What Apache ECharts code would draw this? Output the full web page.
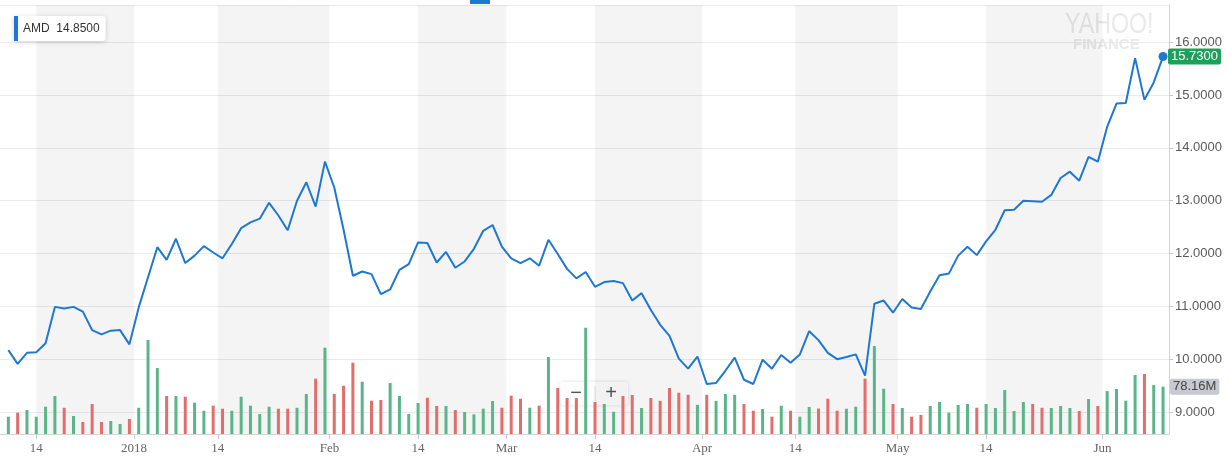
<!DOCTYPE html>
<html><head><meta charset="utf-8">
<script src="https://cdn.jsdelivr.net/npm/echarts@6/dist/echarts.min.js"></script>
<style>html,body{margin:0;padding:0;background:#fff}#c{width:1229px;height:462px}</style>
</head><body><div id="c"></div>
<script>
const dates = [
'2017-12-11','2017-12-12','2017-12-13','2017-12-14','2017-12-15','2017-12-18','2017-12-19','2017-12-20','2017-12-21','2017-12-22','2017-12-26','2017-12-27','2017-12-28','2017-12-29',
'2018-01-02','2018-01-03','2018-01-04','2018-01-05','2018-01-08','2018-01-09','2018-01-10','2018-01-11','2018-01-12','2018-01-16','2018-01-17','2018-01-18','2018-01-19','2018-01-22','2018-01-23','2018-01-24','2018-01-25','2018-01-26','2018-01-29','2018-01-30','2018-01-31',
'2018-02-01','2018-02-02','2018-02-05','2018-02-06','2018-02-07','2018-02-08','2018-02-09','2018-02-12','2018-02-13','2018-02-14','2018-02-15','2018-02-16','2018-02-20','2018-02-21','2018-02-22','2018-02-23','2018-02-26','2018-02-27','2018-02-28',
'2018-03-01','2018-03-02','2018-03-05','2018-03-06','2018-03-07','2018-03-08','2018-03-09','2018-03-12','2018-03-13','2018-03-14','2018-03-15','2018-03-16','2018-03-19','2018-03-20','2018-03-21','2018-03-22','2018-03-23','2018-03-26','2018-03-27','2018-03-28','2018-03-29',
'2018-04-02','2018-04-03','2018-04-04','2018-04-05','2018-04-06','2018-04-09','2018-04-10','2018-04-11','2018-04-12','2018-04-13','2018-04-16','2018-04-17','2018-04-18','2018-04-19','2018-04-20','2018-04-23','2018-04-24','2018-04-25','2018-04-26','2018-04-27','2018-04-30',
'2018-05-01','2018-05-02','2018-05-03','2018-05-04','2018-05-07','2018-05-08','2018-05-09','2018-05-10','2018-05-11','2018-05-14','2018-05-15','2018-05-16','2018-05-17','2018-05-18','2018-05-21','2018-05-22','2018-05-23','2018-05-24','2018-05-25','2018-05-29','2018-05-30','2018-05-31',
'2018-06-01','2018-06-04','2018-06-05','2018-06-06','2018-06-07','2018-06-08','2018-06-11'];

const closes = [
10.17, 9.91, 10.12, 10.13, 10.30, 10.99, 10.96, 10.99, 10.90, 10.55,
10.47, 10.54, 10.55, 10.28, 10.98, 11.55, 12.12, 11.88, 12.28, 11.82,
11.96, 12.14, 12.02, 11.91, 12.18, 12.48, 12.59, 12.66, 12.96, 12.72,
12.44, 13.00, 13.35, 12.89, 13.74, 13.25, 12.45, 11.58, 11.66, 11.61,
11.23, 11.32, 11.69, 11.80, 12.21, 12.20, 11.83, 12.03, 11.73, 11.85,
12.09, 12.43, 12.54, 12.13, 11.91, 11.82, 11.91, 11.77, 12.26, 11.99,
11.71, 11.53, 11.65, 11.37, 11.46, 11.48, 11.44, 11.11, 11.25, 10.93,
10.65, 10.44, 10.01, 9.82, 10.05, 9.53, 9.55, 9.78, 10.03, 9.61,
9.53, 9.99, 9.82, 10.08, 9.93, 10.09, 10.53, 10.36, 10.12, 10.00,
10.04, 10.09, 9.69, 11.05, 11.11, 10.88, 11.14, 10.98, 10.95, 11.28,
11.59, 11.62, 11.96, 12.13, 11.97, 12.23, 12.45, 12.82, 12.83, 13.00,
12.99, 12.98, 13.11, 13.43, 13.55, 13.38, 13.83, 13.74, 14.40, 14.84,
14.85, 15.70, 14.91, 15.24, 15.73];

const volumes = [
28.6, 35.2, 39.6, 28.6, 45.1, 62.8, 43.4, 29.7, 19.8, 49.6,
19.8, 21.5, 16.5, 24.8, 43.4, 155.3, 109.0, 62.8, 62.8, 61.6,
51.7, 38.5, 46.8, 41.8, 38.5, 61.6, 46.8, 33.0, 45.1, 41.8,
41.8, 43.4, 66.1, 91.4, 142.6, 66.1, 79.8, 117.8, 86.4, 55.0,
56.2, 84.3, 62.8, 33.0, 51.2, 60.0, 46.3, 46.3, 39.6, 36.3,
32.5, 41.8, 54.5, 43.4, 63.3, 58.3, 43.4, 46.8, 127.2, 76.0,
59.5, 59.5, 175.6, 52.9, 49.6, 36.8, 62.8, 64.4, 43.0, 59.5,
54.8, 76.0, 68.2, 64.8, 48.2, 64.8, 54.8, 66.1, 64.8, 49.6,
38.5, 41.3, 28.6, 46.6, 38.5, 28.6, 44.6, 42.1, 58.3, 38.5,
41.8, 45.1, 91.4, 145.4, 74.8, 49.6, 43.0, 28.6, 31.4, 46.3,
52.9, 35.2, 47.9, 49.6, 43.4, 49.6, 43.0, 72.7, 38.0, 52.9,
49.6, 43.4, 43.0, 46.3, 43.0, 38.0, 57.8, 46.3, 71.0, 74.3,
55.0, 97.5, 99.1, 80.9, 78.16];

const tickDates = ['2017-12-14','2018-01-01','2018-01-14','2018-02-01','2018-02-14','2018-03-01','2018-03-14','2018-04-01','2018-04-14','2018-05-01','2018-05-14','2018-06-01'];
const tickLabels = ['14','2018','14','Feb','14','Mar','14','Apr','14','May','14','Jun'];
const legendValue = 14.85;

const GREEN = '#5bb58a', RED = '#e26d6d', BLUE = '#1e78d2';

function posOf(d) {
  const idx = dates.findIndex(x => x >= d);
  if (dates[idx] === d && d.slice(8) !== '01') return idx;
  return idx - 0.5;
}
const tickPos = tickDates.map(posOf);
const labelMap = {};
tickPos.forEach((p, k) => { labelMap[p.toFixed(2)] = tickLabels[k]; });
const bands = [];
for (let k = 0; k < tickDates.length - 1; k++) {
  if (tickDates[k].slice(8) === '14') bands.push([{ xAxis: tickPos[k] }, { xAxis: tickPos[k + 1] }]);
}
const up = i => i === 0 || closes[i] >= closes[i - 1];
const lastI = closes.length - 1;

const chart = echarts.init(document.getElementById('c'));
chart.setOption({
  animation: false,
  backgroundColor: '#fff',
  grid: { left: 0, right: 60, top: 5, bottom: 28, containLabel: false },
  legend: {
    data: ['AMD'], left: 14, top: 16, icon: 'rect', itemWidth: 4, itemHeight: 25,
    padding: [0, 6, 0, 0], backgroundColor: '#fff', borderRadius: 3,
    shadowBlur: 5, shadowColor: 'rgba(0,0,0,0.18)', shadowOffsetY: 1,
    selectedMode: false,
    textStyle: { fontSize: 12, color: '#333', fontFamily: 'Liberation Sans' },
    formatter: n => n + '  ' + legendValue.toFixed(4)
  },
  xAxis: {
    type: 'value', min: -0.895, max: 124.64,
    axisLine: { show: true, onZero: false, lineStyle: { color: '#d4d4d4' } },
    axisTick: { show: true, customValues: tickPos, length: 5, lineStyle: { color: '#c8c8c8' } },
    axisLabel: { customValues: tickPos, formatter: v => labelMap[Number(v).toFixed(2)] || '',
      fontFamily: 'Liberation Serif', fontSize: 13, color: '#666', margin: 8 },
    splitLine: { show: false }
  },
  yAxis: [{
    type: 'value', position: 'right', min: 8.583, max: 16.706, splitNumber: 8,
    axisLine: { show: true, onZero: false, lineStyle: { color: '#d4d4d4' } },
    axisTick: { show: true, length: 4, lineStyle: { color: '#c8c8c8' } },
    axisLabel: {
      showMinLabel: false, showMaxLabel: false, margin: 6, color: '#5a5a5a', fontSize: 13,
      fontFamily: 'Liberation Sans',
      formatter: v => (Math.abs(v - Math.round(v)) < 1e-6 ? Number(v).toFixed(4) : '')
    },
    splitLine: { show: true, lineStyle: { color: '#ebebeb' } }
  }, {
    type: 'value', min: 0, max: 709, show: false, splitLine: { show: false },
    axisLine: { show: false, onZero: false }
  }],
  series: [{
    type: 'line', name: 'bands', data: [], z: 0, silent: true,
    markArea: { silent: true, itemStyle: { color: 'rgba(0,0,0,0.043)' }, data: bands }
  }, {
    type: 'bar', name: 'Volume', yAxisIndex: 1, barWidth: 3, z: 2, silent: true,
    data: volumes.map((v, i) => ({ value: [i, v], itemStyle: { color: up(i) ? GREEN : RED } })),
    markLine: {
      symbol: 'none', silent: true,
      lineStyle: { color: 'transparent', width: 0 },
      label: { position: 'end', distance: 1, formatter: () => volumes[lastI].toFixed(2) + 'M',
        backgroundColor: '#c6c9d1', color: '#444', padding: [2, 3, 1, 3], borderRadius: 2,
        fontSize: 13, fontFamily: 'Liberation Sans' },
      data: [{ yAxis: volumes[lastI] }]
    }
  }, {
    type: 'line', name: 'AMD', z: 3, showSymbol: false,
    data: closes.map((c, i) => [i, c]),
    lineStyle: { width: 2, color: BLUE }, itemStyle: { color: BLUE },
    markPoint: {
      symbol: 'circle', symbolSize: 9, silent: true, itemStyle: { color: BLUE },
      label: { show: false }, data: [{ coord: [lastI, closes[lastI]] }]
    },
    markLine: {
      symbol: 'none', silent: true,
      lineStyle: { color: 'transparent', width: 0 },
      label: { position: 'end', distance: -1, formatter: () => closes[lastI].toFixed(4),
        backgroundColor: '#1ea05a', color: '#fff', padding: [2, 3, 1, 3], borderRadius: 2,
        fontSize: 13, fontFamily: 'Liberation Sans' },
      data: [{ yAxis: closes[lastI] }]
    }
  }],
  graphic: [
    { type: 'text', left: 1065, top: 10, z: 1, silent: true, scaleX: 0.8,
      style: { text: 'YAHOO!', font: '29px "Liberation Sans"', fill: '#e9e9e9' } },
    { type: 'text', left: 1073, top: 37, z: 1, silent: true,
      style: { text: 'FINANCE', font: 'bold 15px "Liberation Sans"', fill: '#e9e9e9' } },
    { type: 'rect', left: 470, top: 0, z: 10, silent: true, shape: { width: 20, height: 4 }, style: { fill: BLUE } },
    { type: 'group', left: 560, top: 382, z: 100, silent: true, children: [
      { type: 'rect', shape: { x: 0, y: 0, width: 68, height: 23, r: 3 },
        style: { fill: 'rgba(255,255,255,0.93)', shadowBlur: 4, shadowColor: 'rgba(0,0,0,0.15)' } },
      { type: 'line', shape: { x1: 35, y1: 4, x2: 35, y2: 19 }, style: { stroke: '#dcdcdc', lineWidth: 1 } },
      { type: 'text', x: 16, y: 11.5, style: { text: '\u2212', font: '20px "Liberation Sans"', fill: '#555', align: 'center', verticalAlign: 'middle' } },
      { type: 'text', x: 51, y: 11.5, style: { text: '+', font: '20px "Liberation Sans"', fill: '#555', align: 'center', verticalAlign: 'middle' } }
    ] }
  ]
});
</script></body></html>
